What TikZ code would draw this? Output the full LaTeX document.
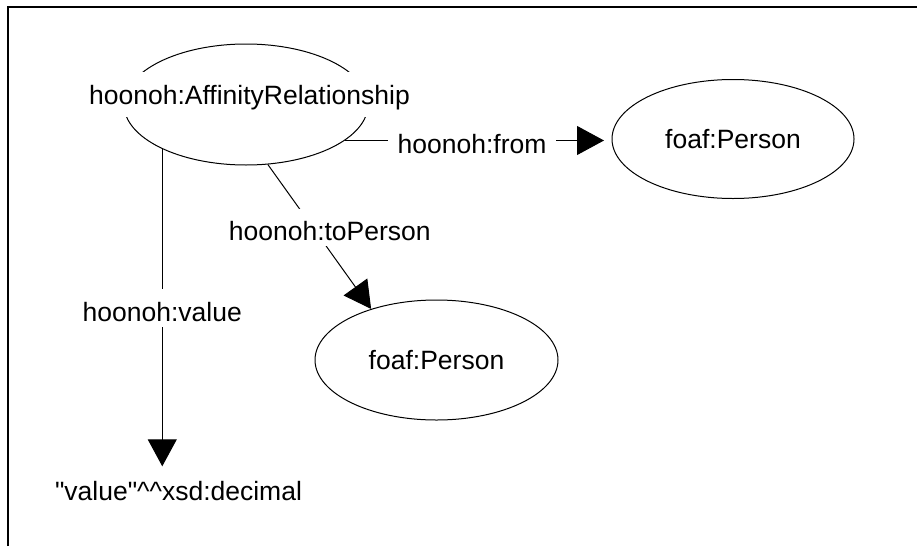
\documentclass[tikz,border=0pt]{standalone}
\usepackage{fontspec}
\setmainfont{Liberation Sans}[Ligatures=TeXOff]
\usetikzlibrary{arrows.meta, shapes.geometric}
\begin{document}
\begin{tikzpicture}[x=1pt, y=-1pt, line width=1pt,
        every node/.style={font=\fontsize{26.5pt}{30pt}\selectfont, inner sep=3pt},
        cls/.style={draw, ellipse, inner sep=0pt},
        lbl/.style={fill=white, inner xsep=10pt, text height=29pt, text depth=2.6pt},
        edge/.style={-{Triangle[length=27pt, width=29pt]}}]
        \useasboundingbox (0,0) rectangle (917,546);
        \draw [line width=1.5pt] (8,546) -- (8,7) -- (917,7);
        \node [cls, minimum width=244pt, minimum height=121pt] (rel) at (246,104.5) {};
        \node [lbl, anchor=base, text depth=9.5pt] (relname) at (249.5,104) {hoonoh:AffinityRelationship};
        \node [cls, minimum width=242pt, minimum height=119pt] (per1) at (733,139) {foaf:Person};
        \node [cls, minimum width=243pt, minimum height=120pt] (per2) at (436.5,360) {foaf:Person};
        \node [anchor=base] (lit) at (178.5,500) {"value"\textasciicircum\textasciicircum xsd:decimal};
        \draw [edge, shorten >=7.5pt] (rel.340) -- node [lbl, pos=0.477] {hoonoh:from} (rel.340 -| per1.west);
        \draw [edge] (rel.290) -- node [lbl, pos=0.435, xshift=17pt] {hoonoh:toPerson} (per2.142);
        \draw [edge, shorten >=11pt] (rel.208) -- node [lbl, pos=0.485] {hoonoh:value} (rel.208 |- lit.north);
    \end{tikzpicture}
\end{document}
